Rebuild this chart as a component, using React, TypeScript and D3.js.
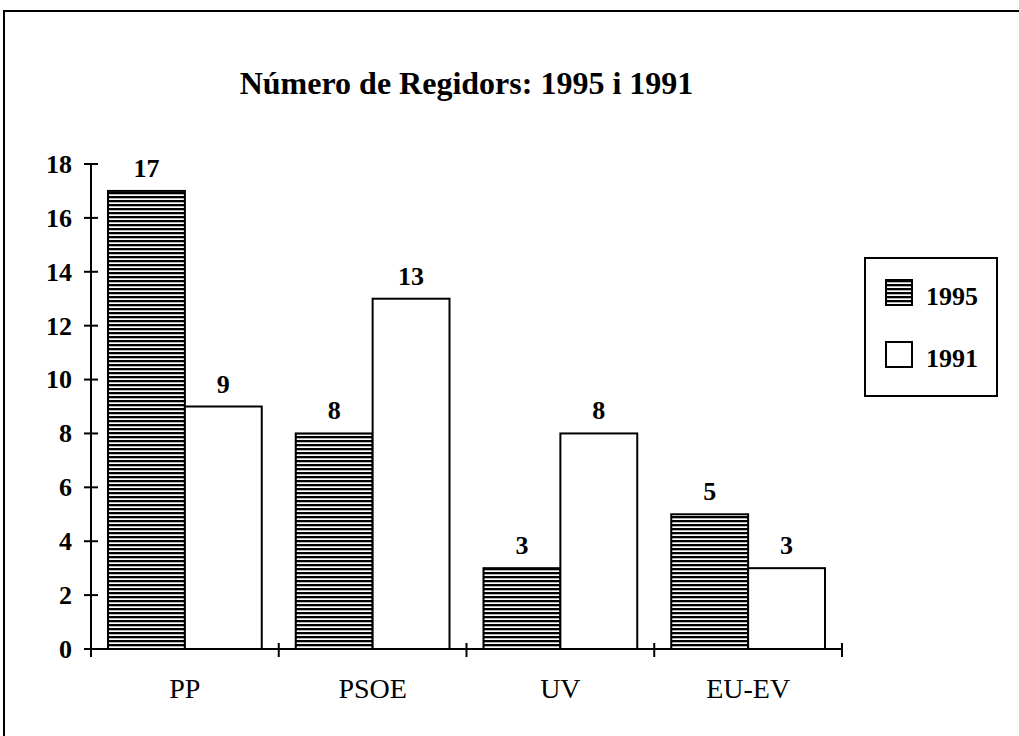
import React, { Component } from "react";
import * as d3 from "d3";

// chart data
const categories = ["PP", "PSOE", "UV", "EU-EV"];
const seriesNames = ["1995", "1991"];
const values1995 = [17, 8, 3, 5];
const values1991 = [9, 13, 8, 3];
const yTicks = [0, 2, 4, 6, 8, 10, 12, 14, 16, 18];
const title = "Número de Regidors: 1995 i 1991";

var width = 1019,
  height = 736;

var font = "'Liberation Serif', 'Times New Roman', serif";

class Chart extends Component {
  svgRef: React.RefObject<SVGSVGElement>;
  constructor(props) {
    super(props);
    this.svgRef = React.createRef();
  }

  componentDidMount() {
    this.drawChart();
  }

  drawChart() {
    var svg = d3.select(this.svgRef.current);
    svg.selectAll("*").remove();

    var defs = svg.append("defs");
    var pat = defs
      .append("pattern")
      .attr("id", "hatch")
      .attr("patternUnits", "userSpaceOnUse")
      .attr("width", 8)
      .attr("height", 4);
    pat.append("rect").attr("width", 8).attr("height", 4).attr("fill", "white");
    pat.append("rect").attr("width", 8).attr("height", 2.3).attr("fill", "black");

    // outer frame (runs off the page on right / bottom)
    svg
      .append("rect")
      .attr("x", 4)
      .attr("y", 11)
      .attr("width", 1040)
      .attr("height", 760)
      .attr("fill", "none")
      .attr("stroke", "black")
      .attr("stroke-width", 2);

    var x0 = d3.scaleBand().domain(categories).range([91, 842]).padding(0);
    var x1 = d3
      .scaleBand()
      .domain(seriesNames)
      .range([17, x0.bandwidth() - 17])
      .padding(0);
    var y = d3.scaleLinear().domain([0, 18]).range([649, 164]);

    svg
      .append("text")
      .attr("x", (91 + 842) / 2)
      .attr("y", 94)
      .attr("text-anchor", "middle")
      .attr("font-family", font)
      .attr("font-weight", "bold")
      .attr("font-size", 32)
      .text(title);

    var rows = categories.map((c, i) => ({
      cat: c,
      vals: [
        { key: "1995", value: values1995[i] },
        { key: "1991", value: values1991[i] }
      ]
    }));

    var groups = svg
      .append("g")
      .selectAll("g")
      .data(rows)
      .enter()
      .append("g")
      .attr("transform", d => `translate(${x0(d.cat)},0)`);

    groups
      .selectAll("rect")
      .data(d => d.vals)
      .enter()
      .append("rect")
      .attr("x", d => x1(d.key))
      .attr("y", d => y(d.value))
      .attr("width", x1.bandwidth())
      .attr("height", d => y(0) - y(d.value))
      .attr("fill", d => (d.key === "1995" ? "url(#hatch)" : "white"))
      .attr("stroke", "black")
      .attr("stroke-width", 2);

    groups
      .selectAll("text")
      .data(d => d.vals)
      .enter()
      .append("text")
      .attr("x", d => x1(d.key) + x1.bandwidth() / 2)
      .attr("y", d => y(d.value) - 14)
      .attr("text-anchor", "middle")
      .attr("font-family", font)
      .attr("font-weight", "bold")
      .attr("font-size", 26)
      .text(d => d.value);

    // y axis
    var yAxis = svg.append("g");
    yAxis
      .append("line")
      .attr("x1", 91)
      .attr("x2", 91)
      .attr("y1", y(18))
      .attr("y2", y(0))
      .attr("stroke", "black")
      .attr("stroke-width", 2);
    yAxis
      .selectAll("line.tick")
      .data(yTicks)
      .enter()
      .append("line")
      .attr("class", "tick")
      .attr("x1", 84)
      .attr("x2", 98)
      .attr("y1", d => y(d))
      .attr("y2", d => y(d))
      .attr("stroke", "black")
      .attr("stroke-width", 2);
    yAxis
      .selectAll("text")
      .data(yTicks)
      .enter()
      .append("text")
      .attr("x", 72)
      .attr("y", d => y(d))
      .attr("dy", "0.34em")
      .attr("text-anchor", "end")
      .attr("font-family", font)
      .attr("font-weight", "bold")
      .attr("font-size", 26)
      .text(d => d);

    // x axis
    var xAxis = svg.append("g");
    xAxis
      .append("line")
      .attr("x1", 91)
      .attr("x2", 842)
      .attr("y1", y(0))
      .attr("y2", y(0))
      .attr("stroke", "black")
      .attr("stroke-width", 2);
    var edges = categories.map(c => x0(c)).concat([842]);
    xAxis
      .selectAll("line.tick")
      .data(edges)
      .enter()
      .append("line")
      .attr("class", "tick")
      .attr("x1", d => d)
      .attr("x2", d => d)
      .attr("y1", y(0) - 6)
      .attr("y2", y(0) + 8)
      .attr("stroke", "black")
      .attr("stroke-width", 2);
    xAxis
      .selectAll("text")
      .data(categories)
      .enter()
      .append("text")
      .attr("x", d => x0(d) + x0.bandwidth() / 2)
      .attr("y", 698)
      .attr("text-anchor", "middle")
      .attr("font-family", font)
      .attr("font-size", 28)
      .text(d => d);

    // legend
    var legend = svg.append("g");
    legend
      .append("rect")
      .attr("x", 865)
      .attr("y", 258)
      .attr("width", 132)
      .attr("height", 138)
      .attr("fill", "white")
      .attr("stroke", "black")
      .attr("stroke-width", 2);
    var items = legend
      .selectAll("g")
      .data(seriesNames)
      .enter()
      .append("g")
      .attr("transform", (d, i) => `translate(886,${280 + i * 62})`);
    items
      .append("rect")
      .attr("width", 26)
      .attr("height", 25)
      .attr("fill", d => (d === "1995" ? "url(#hatch)" : "white"))
      .attr("stroke", "black")
      .attr("stroke-width", 2);
    items
      .append("text")
      .attr("x", 40)
      .attr("y", 25)
      .attr("font-family", font)
      .attr("font-weight", "bold")
      .attr("font-size", 26)
      .text(d => d);
  }

  render() {
    return (
      <svg
        ref={this.svgRef}
        width={width}
        height={height}
        style={{ position: "absolute", left: 0, top: 0, background: "white" }}
      ></svg>
    );
  }
}

export default function App() {
  return <Chart />;
}
